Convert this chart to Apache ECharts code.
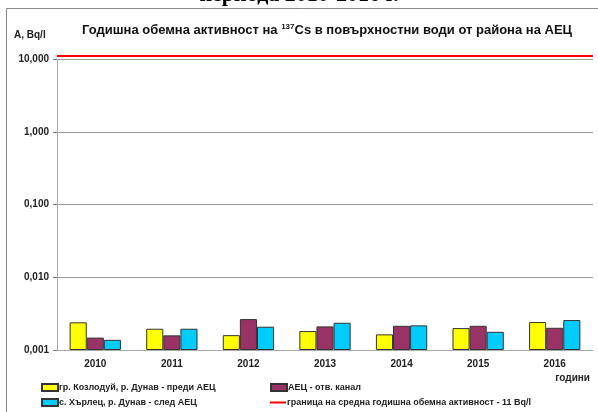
<!DOCTYPE html>
<html>
<head>
<meta charset="utf-8">
<script src="https://cdn.jsdelivr.net/npm/echarts@6/dist/echarts.min.js"></script>
<style>
  html, body { margin: 0; padding: 0; background: #fff; }
  #chart { width: 598px; height: 412px; }
</style>
</head>
<body>
<div id="chart"></div>
<script>
  // години
  let years = ['2010', '2011', '2012', '2013', '2014', '2015', '2016']
  // Bq/l
  let kozloduy = [0.0024, 0.00196, 0.0016, 0.00182, 0.00164, 0.002, 0.00242]
  let aec = [0.00148, 0.00159, 0.00266, 0.00211, 0.00215, 0.00215, 0.00202]
  let harlets = [0.00138, 0.00196, 0.00209, 0.00237, 0.00218, 0.00178, 0.00258]
  let limit = 11
  let yTicks = [0.001, 0.01, 0.1, 1, 10]

  let names = [
    'гр. Козлодуй, р. Дунав - преди АЕЦ',
    'АЕЦ - отв. канал',
    'с. Хърлец, р. Дунав - след АЕЦ',
    'граница на средна годишна обемна активност - 11 Bq/l'
  ]

  let font = 'Liberation Sans'
  let myChart = echarts.init(document.getElementById('chart'))

  let barStyle = function (color) {
    return {
      color: color,
      borderColor: '#333',
      borderWidth: 1
    }
  }

  // one legend per item so each sits where the original puts it
  let legendAt = function (name, left, top, icon, h) {
    return {
      left: left,
      top: top,
      itemWidth: 16,
      itemHeight: h,
      icon: icon,
      data: [name],
      textStyle: { fontSize: 9, fontWeight: 'bold', color: '#222', padding: [0, 0, 0, -4] }
    }
  }

  let option = {
    animation: false,
    textStyle: { fontFamily: font },
    title: {
      text: '{b|Годишна обемна активност на }{s|137}{b|Cs в повърхностни води от района на АЕЦ}',
      left: 322,
      top: 18,
      textAlign: 'center',
      textStyle: {
        rich: {
          b: { fontFamily: font, fontWeight: 'bold', fontSize: 13, color: '#111' },
          s: { fontFamily: font, fontWeight: 'bold', fontSize: 8, color: '#111', verticalAlign: 'top', padding: [0, 0, 6, 0] }
        }
      }
    },
    graphic: [
      {
        type: 'rect',
        shape: { x: 6.5, y: 8.5, width: 640, height: 440 },
        style: { fill: 'none', stroke: '#888', lineWidth: 1 },
        z: -1
      },
      {
        type: 'text',
        left: 'center',
        top: -16,
        style: { text: 'периода 2010-2016 г.', fontFamily: 'Liberation Serif', fontWeight: 'bold', fontSize: 22, fill: '#000' }
      },
      {
        type: 'text',
        left: 14,
        top: 30,
        style: { text: 'A, Bq/l', fontFamily: font, fontWeight: 'bold', fontSize: 10, fill: '#222' }
      },
      {
        type: 'text',
        right: 8,
        top: 373,
        style: { text: 'години', fontFamily: font, fontWeight: 'bold', fontSize: 10, fill: '#222' }
      }
    ],
    legend: [
      legendAt(names[0], 36, 378, 'rect', 7),
      legendAt(names[2], 36, 393, 'rect', 7),
      legendAt(names[1], 265, 378, 'rect', 7),
      legendAt(names[3], 265, 393, 'rect', 2)
    ],
    grid: {
      left: 57,
      right: 5,
      top: 59,
      bottom: 62
    },
    xAxis: [
      {
        type: 'category',
        data: years,
        axisLine: { lineStyle: { color: '#aaa', width: 1 } },
        axisTick: { show: false },
        axisLabel: { fontSize: 10, fontWeight: 'bold', color: '#222', margin: 9 }
      },
      {
        type: 'value',
        min: 0,
        max: 1,
        show: false
      }
    ],
    yAxis: {
      type: 'log',
      logBase: 10,
      min: yTicks[0],
      max: yTicks[yTicks.length - 1],
      startValue: yTicks[0],
      axisLine: { show: true, lineStyle: { color: '#aaa' } },
      axisTick: { show: true, length: 4, lineStyle: { color: '#777' } },
      splitLine: { lineStyle: { color: '#999', width: 1 } },
      axisLabel: {
        fontSize: 10,
        fontWeight: 'bold',
        color: '#222',
        margin: 8,
        formatter: function (v) {
          return Number(v).toFixed(3).replace('.', ',')
        }
      }
    },
    series: [
      {
        name: names[0],
        type: 'bar',
        barGap: '0%',
        barCategoryGap: '33%',
        itemStyle: barStyle('#ffff00'),
        data: kozloduy
      },
      {
        name: names[1],
        type: 'bar',
        itemStyle: barStyle('#993366'),
        data: aec
      },
      {
        name: names[2],
        type: 'bar',
        itemStyle: barStyle('#00ccff'),
        data: harlets
      },
      {
        name: names[3],
        type: 'line',
        xAxisIndex: 1,
        clip: false,
        symbol: 'none',
        z: 5,
        lineStyle: { color: '#ff0000', width: 2 },
        itemStyle: { color: '#ff0000' },
        data: [[0, limit], [1, limit]]
      }
    ]
  }
  myChart.setOption(option)
</script>
</body>
</html>
